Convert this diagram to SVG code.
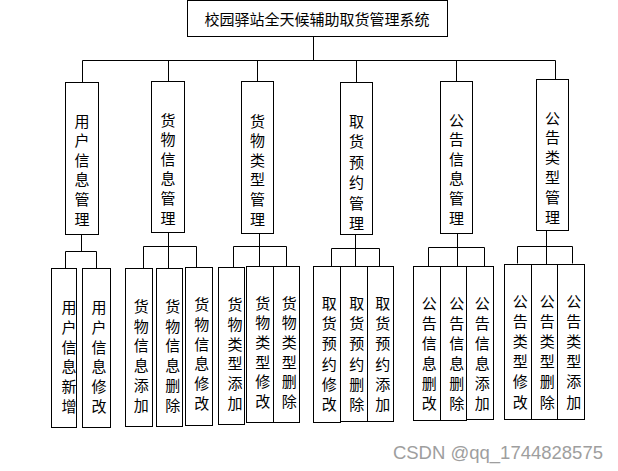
<svg xmlns="http://www.w3.org/2000/svg" width="618" height="471" viewBox="0 0 618 471">
<style>
rect{fill:#fff;stroke:#000;stroke-width:1}
.c path{fill:none;stroke:#000;stroke-width:1}
text{font-family:"Noto Sans CJK SC","Noto Sans",sans-serif;font-size:15px;fill:#000;text-anchor:middle;dominant-baseline:central}
.wm{font-family:"Liberation Sans",Arial,sans-serif;font-size:18.5px;fill:#9e9e9e;text-anchor:end;dominant-baseline:auto}
</style>
<rect width="618" height="471" style="stroke:none;fill:#fff"/>
<g class="c" id="connectors">
<path d="M313.5 37V60.5M82.5 60.5H555.5M82.5 60.5V82.5M168.5 60.5V81.5M257.5 60.5V81.5M356.5 60.5V82.5M456.5 60.5V81.5M555.5 60.5V79.5"/>
<path d="M81.5 234.5V251.5M65.5 251.5H96.5M65.5 251.5V268.5M96.5 251.5V268.5"/>
<path d="M168.5 232.5V246.5M143.5 246.5H196.5M143.5 246.5V268.5M168.5 246.5V268.5M196.5 246.5V267.5"/>
<path d="M259.5 233.5V246.5M233.5 246.5H286.5M233.5 246.5V267.5M259.5 246.5V266.5M286.5 246.5V266.5"/>
<path d="M355.5 234.5V248.5M331.5 248.5H379.5M331.5 248.5V266.5M355.5 248.5V266.5M379.5 248.5V266.5"/>
<path d="M457.5 233.5V247.5M428.5 247.5H484.5M428.5 247.5V266.5M457.5 247.5V266.5M484.5 247.5V266.5"/>
<path d="M546.5 230.5V246.5M517.5 246.5H572.5M517.5 246.5V263.5M546.5 246.5V264.5M572.5 246.5V263.5"/>
</g>
<g id="root"><rect x="187.5" y="0.5" width="260" height="36"/><text x="317" y="18">校园驿站全天候辅助取货管理系统</text></g>

<g id="n1"><rect x="65.5" y="82.5" width="33" height="152"/><text x="82" y="119.5"><tspan x="82">用</tspan><tspan x="82" dy="19.6">户</tspan><tspan x="82" dy="19.6">信</tspan><tspan x="82" dy="19.6">息</tspan><tspan x="82" dy="19.6">管</tspan><tspan x="82" dy="19.6">理</tspan></text></g>
<g id="n2"><rect x="151.5" y="81.5" width="33" height="151"/><text x="168" y="118.5"><tspan x="168">货</tspan><tspan x="168" dy="19.6">物</tspan><tspan x="168" dy="19.6">信</tspan><tspan x="168" dy="19.6">息</tspan><tspan x="168" dy="19.6">管</tspan><tspan x="168" dy="19.6">理</tspan></text></g>
<g id="n3"><rect x="241.5" y="81.5" width="32" height="152"/><text x="257.5" y="119.5"><tspan x="257.5">货</tspan><tspan x="257.5" dy="19.6">物</tspan><tspan x="257.5" dy="19.6">类</tspan><tspan x="257.5" dy="19.6">型</tspan><tspan x="257.5" dy="19.6">管</tspan><tspan x="257.5" dy="19.6">理</tspan></text></g>
<g id="n4"><rect x="340.5" y="82.5" width="32" height="152"/><text x="356.5" y="119.5"><tspan x="356.5">取</tspan><tspan x="356.5" dy="20.5">货</tspan><tspan x="356.5" dy="20.5">预</tspan><tspan x="356.5" dy="20.5">约</tspan><tspan x="356.5" dy="20.5">管</tspan><tspan x="356.5" dy="20.5">理</tspan></text></g>
<g id="n5"><rect x="440.5" y="81.5" width="32" height="152"/><text x="456.5" y="118.5"><tspan x="456.5">公</tspan><tspan x="456.5" dy="19.6">告</tspan><tspan x="456.5" dy="19.6">信</tspan><tspan x="456.5" dy="19.6">息</tspan><tspan x="456.5" dy="19.6">管</tspan><tspan x="456.5" dy="19.6">理</tspan></text></g>
<g id="n6"><rect x="536.5" y="79.5" width="32" height="151"/><text x="552.5" y="116.5"><tspan x="552.5">公</tspan><tspan x="552.5" dy="19.8">告</tspan><tspan x="552.5" dy="19.8">类</tspan><tspan x="552.5" dy="19.8">型</tspan><tspan x="552.5" dy="19.8">管</tspan><tspan x="552.5" dy="19.8">理</tspan></text></g>

<g id="n1a"><rect x="51.5" y="268.5" width="25" height="159"/><text x="69" y="306"><tspan x="69">用</tspan><tspan x="69" dy="19.8">户</tspan><tspan x="69" dy="19.8">信</tspan><tspan x="69" dy="19.8">息</tspan><tspan x="69" dy="19.8">新</tspan><tspan x="69" dy="19.8">增</tspan></text></g>
<g id="n1b"><rect x="82.5" y="268.5" width="28" height="159"/><text x="99" y="306"><tspan x="99">用</tspan><tspan x="99" dy="19.8">户</tspan><tspan x="99" dy="19.8">信</tspan><tspan x="99" dy="19.8">息</tspan><tspan x="99" dy="19.8">修</tspan><tspan x="99" dy="19.8">改</tspan></text></g>

<g id="n2a"><rect x="125.5" y="268.5" width="27" height="158"/><text x="141.3" y="305"><tspan x="141.3">货</tspan><tspan x="141.3" dy="19.7">物</tspan><tspan x="141.3" dy="19.7">信</tspan><tspan x="141.3" dy="19.7">息</tspan><tspan x="141.3" dy="19.7">添</tspan><tspan x="141.3" dy="19.7">加</tspan></text></g>
<g id="n2b"><rect x="156.5" y="268.5" width="26" height="158"/><text x="172.7" y="305"><tspan x="172.7">货</tspan><tspan x="172.7" dy="19.7">物</tspan><tspan x="172.7" dy="19.7">信</tspan><tspan x="172.7" dy="19.7">息</tspan><tspan x="172.7" dy="19.7">删</tspan><tspan x="172.7" dy="19.7">除</tspan></text></g>
<g id="n2c"><rect x="185.5" y="267.5" width="27" height="158"/><text x="201.7" y="303.3"><tspan x="201.7">货</tspan><tspan x="201.7" dy="19.7">物</tspan><tspan x="201.7" dy="19.7">信</tspan><tspan x="201.7" dy="19.7">息</tspan><tspan x="201.7" dy="19.7">修</tspan><tspan x="201.7" dy="19.7">改</tspan></text></g>

<g id="n3a"><rect x="218.5" y="267.5" width="26" height="157"/><text x="235" y="303.3"><tspan x="235">货</tspan><tspan x="235" dy="19.7">物</tspan><tspan x="235" dy="19.7">类</tspan><tspan x="235" dy="19.7">型</tspan><tspan x="235" dy="19.7">添</tspan><tspan x="235" dy="19.7">加</tspan></text></g>
<g id="n3b"><rect x="246.5" y="266.5" width="27" height="156"/><text x="262.7" y="301.7"><tspan x="262.7">货</tspan><tspan x="262.7" dy="19.6">物</tspan><tspan x="262.7" dy="19.6">类</tspan><tspan x="262.7" dy="19.6">型</tspan><tspan x="262.7" dy="19.6">修</tspan><tspan x="262.7" dy="19.6">改</tspan></text></g>
<g id="n3c"><rect x="273.5" y="266.5" width="26" height="156"/><text x="289.2" y="301.7"><tspan x="289.2">货</tspan><tspan x="289.2" dy="19.6">物</tspan><tspan x="289.2" dy="19.6">类</tspan><tspan x="289.2" dy="19.6">型</tspan><tspan x="289.2" dy="19.6">删</tspan><tspan x="289.2" dy="19.6">除</tspan></text></g>

<g id="n4a"><rect x="313.5" y="266.5" width="27" height="156"/><text x="329.3" y="301.7"><tspan x="329.3">取</tspan><tspan x="329.3" dy="20.3">货</tspan><tspan x="329.3" dy="20.3">预</tspan><tspan x="329.3" dy="20.3">约</tspan><tspan x="329.3" dy="20.3">修</tspan><tspan x="329.3" dy="20.3">改</tspan></text></g>
<g id="n4b"><rect x="340.5" y="266.5" width="27" height="155"/><text x="356.7" y="301.7"><tspan x="356.7">取</tspan><tspan x="356.7" dy="20.3">货</tspan><tspan x="356.7" dy="20.3">预</tspan><tspan x="356.7" dy="20.3">约</tspan><tspan x="356.7" dy="20.3">删</tspan><tspan x="356.7" dy="20.3">除</tspan></text></g>
<g id="n4c"><rect x="367.5" y="266.5" width="26" height="155"/><text x="382.7" y="301.7"><tspan x="382.7">取</tspan><tspan x="382.7" dy="20.3">货</tspan><tspan x="382.7" dy="20.3">预</tspan><tspan x="382.7" dy="20.3">约</tspan><tspan x="382.7" dy="20.3">添</tspan><tspan x="382.7" dy="20.3">加</tspan></text></g>

<g id="n5a"><rect x="413.5" y="266.5" width="27" height="154"/><text x="429.3" y="301.7"><tspan x="429.3">公</tspan><tspan x="429.3" dy="20">告</tspan><tspan x="429.3" dy="20">信</tspan><tspan x="429.3" dy="20">息</tspan><tspan x="429.3" dy="20">删</tspan><tspan x="429.3" dy="20">改</tspan></text></g>
<g id="n5b"><rect x="440.5" y="266.5" width="26" height="154"/><text x="456.7" y="301.7"><tspan x="456.7">公</tspan><tspan x="456.7" dy="20">告</tspan><tspan x="456.7" dy="20">信</tspan><tspan x="456.7" dy="20">息</tspan><tspan x="456.7" dy="20">删</tspan><tspan x="456.7" dy="20">除</tspan></text></g>
<g id="n5c"><rect x="466.5" y="266.5" width="27" height="153"/><text x="482.3" y="301.7"><tspan x="482.3">公</tspan><tspan x="482.3" dy="20">告</tspan><tspan x="482.3" dy="20">信</tspan><tspan x="482.3" dy="20">息</tspan><tspan x="482.3" dy="20">添</tspan><tspan x="482.3" dy="20">加</tspan></text></g>

<g id="n6a"><rect x="504.5" y="264.5" width="27" height="155"/><text x="520.3" y="300"><tspan x="520.3">公</tspan><tspan x="520.3" dy="20.1">告</tspan><tspan x="520.3" dy="20.1">类</tspan><tspan x="520.3" dy="20.1">型</tspan><tspan x="520.3" dy="20.1">修</tspan><tspan x="520.3" dy="20.1">改</tspan></text></g>
<g id="n6b"><rect x="531.5" y="264.5" width="26" height="155"/><text x="547.3" y="300"><tspan x="547.3">公</tspan><tspan x="547.3" dy="20.1">告</tspan><tspan x="547.3" dy="20.1">类</tspan><tspan x="547.3" dy="20.1">型</tspan><tspan x="547.3" dy="20.1">删</tspan><tspan x="547.3" dy="20.1">除</tspan></text></g>
<g id="n6c"><rect x="557.5" y="264.5" width="27" height="155"/><text x="573.7" y="300"><tspan x="573.7">公</tspan><tspan x="573.7" dy="20.1">告</tspan><tspan x="573.7" dy="20.1">类</tspan><tspan x="573.7" dy="20.1">型</tspan><tspan x="573.7" dy="20.1">添</tspan><tspan x="573.7" dy="20.1">加</tspan></text></g>

<text class="wm" x="603" y="459">CSDN @qq_1744828575</text>
</svg>
